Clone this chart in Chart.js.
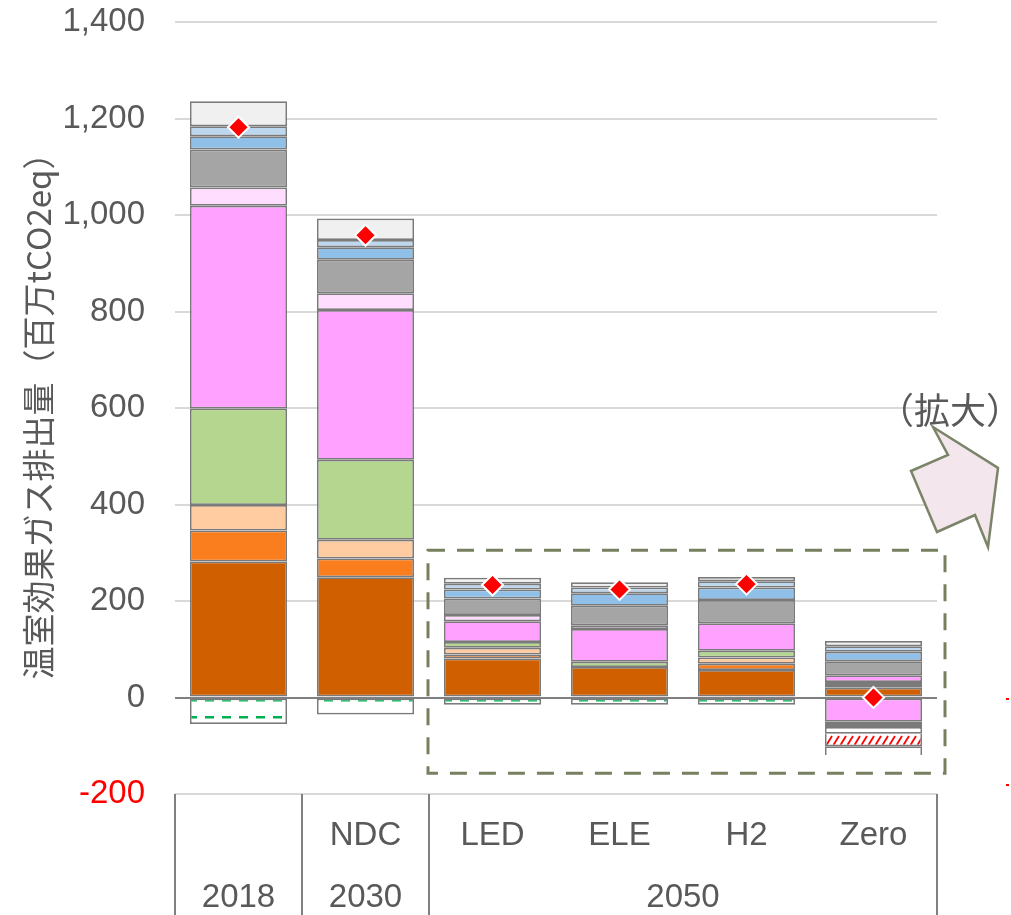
<!DOCTYPE html>
<html><head><meta charset="utf-8">
<script src="https://cdn.jsdelivr.net/npm/chart.js@4/dist/chart.umd.min.js"></script>
<style>html,body{margin:0;padding:0;background:#fff;}canvas{display:block}</style>
</head><body>
<canvas id="c" width="1011" height="915"></canvas>
<script>
// ---- data ----
const categories = ['2018', 'NDC', 'LED', 'ELE', 'H2', 'Zero'];
const scenarioLabels = ['', 'NDC', 'LED', 'ELE', 'H2', 'Zero'];
const yearGroups = [
  { label: '2018', from: 0, to: 0 },
  { label: '2030', from: 1, to: 1 },
  { label: '2050', from: 2, to: 5 }
];
const yTickMin = -200, yTickMax = 1400, yTickStep = 200;

// positive components (bottom to top)
const brownSeries     = [282, 249, 81, 63, 57, 20];
const orangeSeries    = [64, 39, 8, null, 13, 4];
const peachSeries     = [53, 39, 14, null, 13, 4];
const greenSeries     = [200, 166, 12, 11, 14, 4];
const magentaSeries   = [420, 310, 43, 68, 57, 14];
const lightPinkSeries = [38, 35, 13, 8, null, null];
const graySeries      = [79, 69, 34, 40, 48, 29];
const blueSeries      = [27, 26, 19, 26, 26, 20];
const lightBlueSeries = [21, 15, 12, 12, 13, 11];
const lightGraySeries = [52, 45, 12, 11, 9, 11];
// negative components (from zero downward)
const negMagentaSeries = [null, null, null, null, null, -50];
const negGrayASeries   = [null, null, null, null, null, -5];
const negGrayBSeries   = [null, null, null, null, null, -6];
const forestSeries     = [-55, -35, -15, -15, -15, -14];
const dacSeries        = [null, null, null, null, null, -26];
const negOtherSeries   = [null, null, null, null, null, -18];
// net emissions (diamonds)
const netSeries = [1182, 958, 233, 224, 235, 0];

// ---- patterns ----
const canvas = document.getElementById('c');
const mainCtx = canvas.getContext('2d');
function forestPattern() {
  const c = document.createElement('canvas'); c.width = 17; c.height = 17;
  const g = c.getContext('2d');
  g.fillStyle = '#ffffff'; g.fillRect(0, 0, 17, 17);
  g.fillStyle = '#00B050'; g.fillRect(1, 2, 9, 2.5);
  return mainCtx.createPattern(c, 'repeat');
}
function hatchPattern() {
  const c = document.createElement('canvas'); c.width = 7; c.height = 26;
  const g = c.getContext('2d');
  g.fillStyle = '#ffffff'; g.fillRect(0, 0, 7, 26);
  g.strokeStyle = '#FF0000'; g.lineWidth = 1.8;
  g.beginPath(); g.moveTo(0.5, 17); g.lineTo(6, 8); g.stroke();
  return mainCtx.createPattern(c, 'repeat');
}

const FONT = "'Liberation Sans', Arial, sans-serif";
const JFONT = "'Noto Sans CJK JP', sans-serif";
const TEXT = '#595959';

function bar(label, data, bg, extra) {
  return Object.assign({
    type: 'bar', label, data, backgroundColor: bg,
    borderColor: '#7A7A7A', borderWidth: 1.75, borderSkipped: false,
    barPercentage: 0.765, categoryPercentage: 1, stack: 's'
  }, extra || {});
}

const datasets = [
  bar('brown', brownSeries, '#D05F00'),
  bar('orange', orangeSeries, '#FA7D1E'),
  bar('peach', peachSeries, '#FFCBA0'),
  bar('green', greenSeries, '#B4D68E'),
  bar('magenta', magentaSeries, '#FFA2FF'),
  bar('lightpink', lightPinkSeries, '#FFDDFF'),
  bar('gray', graySeries, '#A5A5A5'),
  bar('blue', blueSeries, '#90C0E8'),
  bar('lightblue', lightBlueSeries, '#BDD7EE'),
  bar('lightgray', lightGraySeries, '#F0F0F0'),
  bar('negMagenta', negMagentaSeries, '#FFA2FF'),
  bar('negGrayA', negGrayASeries, '#A5A5A5'),
  bar('negGrayB', negGrayBSeries, '#A5A5A5'),
  bar('forest', forestSeries, forestPattern()),
  bar('dac', dacSeries, hatchPattern(), { borderSkipped: 'bottom' }),
  bar('negOther', negOtherSeries, '#FFFFFF', { borderSkipped: 'top' }),
  {
    type: 'line', label: 'net', data: netSeries, showLine: false, stack: 'net', order: -1,
    pointStyle: 'rectRot', pointRadius: 10.5, pointBackgroundColor: '#FF0000',
    pointBorderColor: '#FFFFFF', pointBorderWidth: 2
  }
];

const deco = {
  id: 'deco',
  afterDraw(chart) {
    const { ctx, chartArea, scales: { x, y } } = chart;
    const half = (x.getPixelForValue(1) - x.getPixelForValue(0)) / 2;
    ctx.save();
    // category table separators
    ctx.strokeStyle = '#808080'; ctx.lineWidth = 2;
    const seps = [x.getPixelForValue(0) - half, x.getPixelForValue(1) - half, x.getPixelForValue(2) - half, chartArea.right];
    seps.forEach(px => { ctx.beginPath(); ctx.moveTo(px, chartArea.bottom); ctx.lineTo(px, chart.height); ctx.stroke(); });
    // labels
    ctx.fillStyle = TEXT; ctx.textAlign = 'center'; ctx.textBaseline = 'middle';
    ctx.font = '33px ' + FONT;
    scenarioLabels.forEach((t, i) => { if (t) ctx.fillText(t, x.getPixelForValue(i), chartArea.bottom + 42); });
    yearGroups.forEach(g => {
      const cx = (x.getPixelForValue(g.from) + x.getPixelForValue(g.to)) / 2;
      ctx.fillText(g.label, cx, chartArea.bottom + 104);
    });
    // dashed zoom box
    ctx.strokeStyle = '#76805F'; ctx.lineWidth = 3; ctx.setLineDash([17, 12]);
    const bl = x.getPixelForValue(2) - half - 1, br = chartArea.right + 8;
    const bt = y.getPixelForValue(305), bb = y.getPixelForValue(-157);
    ctx.strokeRect(bl, bt, br - bl, bb - bt);
    ctx.setLineDash([]);
    // arrow
    const pts = [[933, 427], [948, 455], [911, 471], [937, 532], [975, 515], [988, 547], [998, 468]];
    ctx.beginPath(); pts.forEach((p, i) => i ? ctx.lineTo(p[0], p[1]) : ctx.moveTo(p[0], p[1])); ctx.closePath();
    ctx.fillStyle = '#F3E6EC'; ctx.fill();
    ctx.strokeStyle = '#7A8468'; ctx.lineWidth = 2.5; ctx.lineJoin = 'miter'; ctx.stroke();
    ctx.fillStyle = TEXT; ctx.font = '36px ' + JFONT; ctx.textAlign = 'center';
    ctx.fillText('（拡大）', 950, 410);
    // cut-off red marks at right edge
    ctx.fillStyle = '#FF0000';
    ctx.fillRect(1006, 698, 3, 2); ctx.fillRect(1006, 784, 3, 2);
    ctx.restore();
  }
};

new Chart(canvas, {
  type: 'bar',
  data: { labels: categories, datasets },
  options: {
    responsive: false, animation: false,
    layout: { padding: { top: 22, right: 74, bottom: 121, left: 0 } },
    plugins: { legend: { display: false }, tooltip: { enabled: false } },
    scales: {
      x: { display: false, stacked: true, offset: true },
      y: {
        stacked: true, min: yTickMin, max: yTickMax,
        ticks: {
          stepSize: yTickStep, padding: 2,
          color: c => c.tick.value < 0 ? '#FF0000' : TEXT,
          font: { family: FONT, size: 33 },
          callback: v => Number(v).toLocaleString('en-US')
        },
        grid: {
          color: c => c.tick.value === 0 ? '#808080' : '#D9D9D9', lineWidth: 2,
          drawTicks: true, tickLength: 28, tickColor: 'rgba(0,0,0,0)'
        },
        border: { display: false },
        title: {
          display: true, text: '温室効果ガス排出量（百万tCO2eq）', color: TEXT,
          font: { family: JFONT, size: 33 }, padding: { top: 19, bottom: 0 }
        },
        afterFit: s => { s.width = 175; }
      }
    }
  },
  plugins: [deco]
});
</script>
</body></html>
